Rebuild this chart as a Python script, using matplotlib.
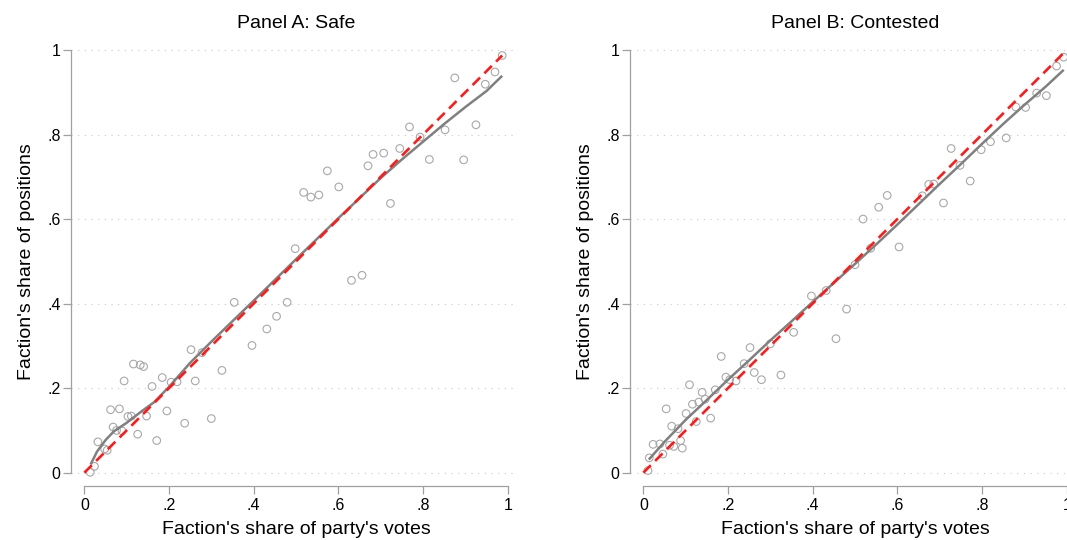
import matplotlib
matplotlib.use("Agg")
import matplotlib.pyplot as plt
import numpy as np

plt.rcParams['font.family'] = ['Liberation Sans', 'DejaVu Sans']

# ---------------- data ----------------
titles = ["Panel A: Safe", "Panel B: Contested"]
xlabel = "Faction's share of party's votes"
ylabel = "Faction's share of positions"
tick_vals = [0, 0.2, 0.4, 0.6, 0.8, 1]
tick_labels = ["0", ".2", ".4", ".6", ".8", "1"]

safe_x = [0.014, 0.024, 0.032, 0.048, 0.054, 0.068, 0.076, 0.062, 0.083, 0.089,
          0.094, 0.103, 0.111, 0.116, 0.132, 0.140, 0.126, 0.147, 0.160, 0.171,
          0.184, 0.195, 0.205, 0.219, 0.237, 0.252, 0.262, 0.278, 0.300, 0.325,
          0.354, 0.396, 0.431, 0.454, 0.479, 0.498, 0.518, 0.535, 0.554, 0.574,
          0.601, 0.631, 0.656, 0.670, 0.682, 0.707, 0.723, 0.745, 0.768, 0.793,
          0.815, 0.852, 0.875, 0.896, 0.925, 0.947, 0.970, 0.987]
safe_y = [0.001, 0.015, 0.073, 0.056, 0.053, 0.108, 0.100, 0.149, 0.151, 0.099,
          0.217, 0.133, 0.134, 0.257, 0.255, 0.251, 0.091, 0.134, 0.204, 0.076,
          0.225, 0.146, 0.214, 0.215, 0.117, 0.291, 0.217, 0.284, 0.128, 0.242,
          0.403, 0.301, 0.340, 0.370, 0.403, 0.530, 0.663, 0.652, 0.657, 0.714,
          0.676, 0.455, 0.467, 0.726, 0.753, 0.756, 0.637, 0.767, 0.818, 0.794,
          0.741, 0.811, 0.934, 0.740, 0.823, 0.919, 0.948, 0.987]

cont_x = [0.011, 0.014, 0.023, 0.039, 0.046, 0.062, 0.072, 0.092, 0.088, 0.054,
          0.067, 0.082, 0.101, 0.109, 0.116, 0.125, 0.131, 0.139, 0.146, 0.159,
          0.170, 0.184, 0.195, 0.204, 0.219, 0.238, 0.252, 0.262, 0.279, 0.300,
          0.325, 0.355, 0.397, 0.432, 0.455, 0.480, 0.500, 0.519, 0.537, 0.556,
          0.576, 0.604, 0.659, 0.674, 0.686, 0.709, 0.727, 0.748, 0.772, 0.798,
          0.820, 0.857, 0.880, 0.903, 0.929, 0.952, 0.976, 0.993]
cont_y = [0.005, 0.035, 0.067, 0.068, 0.044, 0.065, 0.062, 0.058, 0.076, 0.151,
          0.110, 0.104, 0.140, 0.208, 0.162, 0.121, 0.167, 0.190, 0.174, 0.129,
          0.196, 0.275, 0.226, 0.220, 0.217, 0.258, 0.296, 0.237, 0.220, 0.305,
          0.231, 0.332, 0.418, 0.431, 0.317, 0.387, 0.492, 0.600, 0.531, 0.628,
          0.656, 0.534, 0.655, 0.682, 0.683, 0.638, 0.767, 0.727, 0.690, 0.764,
          0.783, 0.792, 0.865, 0.864, 0.898, 0.892, 0.962, 0.983]

# smoothed fit curves
safe_fit_x = [0.015, 0.03, 0.05, 0.07, 0.10, 0.135, 0.165, 0.20, 0.25, 0.30, 0.40,
              0.50, 0.60, 0.70, 0.75, 0.80, 0.85, 0.90, 0.95, 0.987]
safe_fit_y = [0.02, 0.05, 0.077, 0.098, 0.118, 0.145, 0.167, 0.203, 0.26, 0.31, 0.407,
              0.505, 0.602, 0.697, 0.741, 0.783, 0.825, 0.865, 0.903, 0.939]
cont_fit_x = [0.013, 0.05, 0.10, 0.15, 0.20, 0.25, 0.30, 0.35, 0.40, 0.45, 0.50,
              0.55, 0.60, 0.65, 0.70, 0.75, 0.80, 0.85, 0.90, 0.95, 0.993]
cont_fit_y = [0.031, 0.073, 0.125, 0.172, 0.22, 0.266, 0.313, 0.358, 0.404, 0.449, 0.494,
              0.54, 0.587, 0.635, 0.683, 0.730, 0.778, 0.825, 0.870, 0.913, 0.953]

panels = [
    (titles[0], safe_x, safe_y, safe_fit_x, safe_fit_y),
    (titles[1], cont_x, cont_y, cont_fit_x, cont_fit_y),
]

# ---------------- figure ----------------
fig = plt.figure(figsize=(10.67, 5.4), dpi=100)
lefts = [71 / 1067, 630 / 1067]
width = 442 / 1067
bottom = 54 / 540
height = (486 - 44.7) / 540

xlo, xhi = -0.0315, 1.0125
ylo, yhi = -0.0315, 1.0125
axis_grey = '#a0a0a0'
center_frac = (0.5 - xlo) / (xhi - xlo)

for left, (title, x, y, fx, fy) in zip(lefts, panels):
    ax = fig.add_axes([left, bottom, width, height])
    ax.set_xlim(xlo, xhi)
    ax.set_ylim(ylo, yhi)

    ax.scatter(x, y, s=30, facecolors='none', edgecolors='#a8a8a8',
               linewidths=0.8, zorder=2)
    ax.plot(fx, fy, color='#808080', lw=1.8, zorder=3, solid_capstyle='butt')
    ref = [0, max(x)]
    ax.plot(ref, ref, color='#ff1a1a', lw=1.9, linestyle=(0, (4, 2.3)), zorder=4)

    for s in ['top', 'right']:
        ax.spines[s].set_visible(False)
    for s in ['left', 'bottom']:
        ax.spines[s].set_color(axis_grey)
        ax.spines[s].set_linewidth(0.9)
        ax.spines[s].set_bounds(0, 1)

    ax.set_xticks(tick_vals)
    ax.set_xticklabels(tick_labels)
    ax.set_yticks(tick_vals)
    ax.set_yticklabels(tick_labels)
    ax.tick_params(axis='both', which='major', length=5.5, width=0.9,
                   color=axis_grey, labelsize=11.5, labelcolor='black')
    ax.tick_params(axis='x', pad=3)
    ax.tick_params(axis='y', pad=2)

    ax.yaxis.grid(True, color='#c8c8c8', lw=0.8, linestyle=(0, (1, 5)))
    ax.set_axisbelow(True)

    ax.set_title(title, fontsize=14, pad=12, x=center_frac)
    ax.set_xlabel(xlabel, fontsize=14)
    ax.xaxis.set_label_coords(center_frac, -0.08)
    ax.set_ylabel(ylabel, fontsize=14, labelpad=9)
    ax.yaxis.label.set_y(center_frac)

fig.savefig('out.png', dpi=100)
